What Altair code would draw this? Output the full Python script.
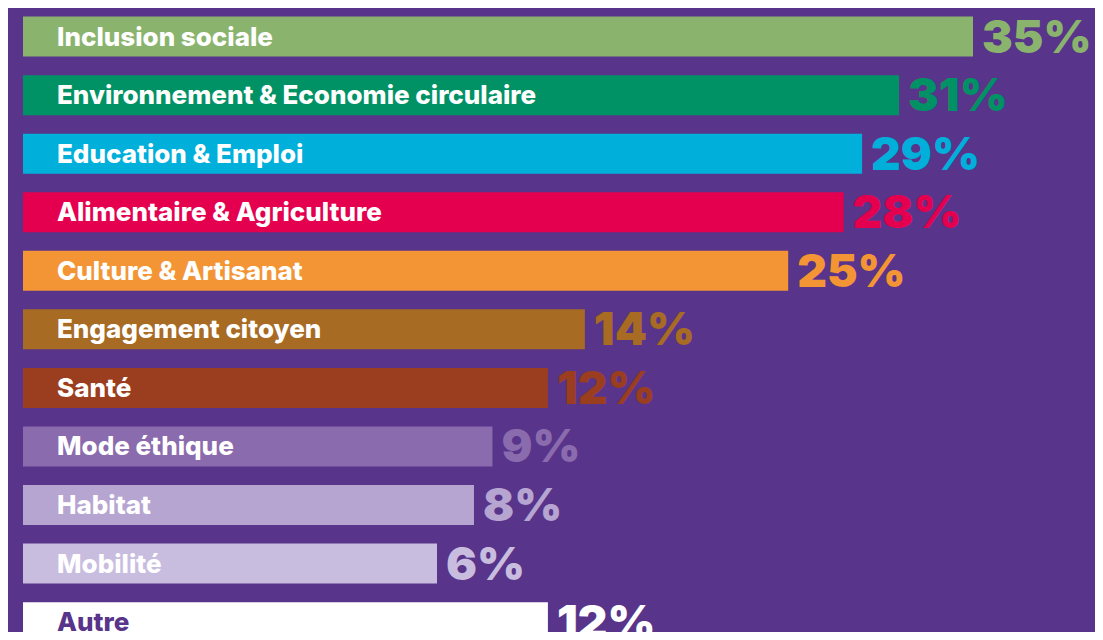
import altair as alt
import pandas as pd

categories = [
    "Inclusion sociale",
    "Environnement & Economie circulaire",
    "Education & Emploi",
    "Alimentaire & Agriculture",
    "Culture & Artisanat",
    "Engagement citoyen",
    "Santé",
    "Mode éthique",
    "Habitat",
    "Mobilité",
    "Autre",
]
values = [35, 31, 29, 28, 25, 14, 12, 9, 8, 6, 12]
bar_colors = [
    "#8AB46E", "#009265", "#00AFDA", "#E4004F", "#F39535", "#A76B23",
    "#9B3E1F", "#8A6BAE", "#B6A4D1", "#C8BCDF", "#FFFFFF",
]
BG = "#58348A"

df = pd.DataFrame({
    "category": categories,
    "value": values,
    "row": list(range(len(categories))),
    "pct": [f"{v}%" for v in values],
})

x_enc = alt.X("value:Q", axis=None, scale=alt.Scale(domain=[-16.4, 35], nice=False, zero=False))
y_enc = alt.Y("row:Q", axis=None, scale=alt.Scale(domain=[-0.403, 10.083], nice=False, zero=False, reverse=True))
color_enc = alt.Color("category:N", scale=alt.Scale(domain=categories, range=bar_colors), legend=None)

base = alt.Chart(df)

bars = base.mark_bar(size=40).encode(
    x=x_enc,
    x2=alt.datum(-16.4),
    y=y_enc,
    color=color_enc,
)

pct = base.mark_text(
    align="left", baseline="middle", dx=9, dy=2, fontSize=46, fontWeight=900, font="Inter"
).encode(
    x=x_enc,
    y=y_enc,
    text="pct:N",
    color=color_enc,
)

labels = base.mark_text(
    align="left", baseline="middle", fontSize=26, fontWeight=800, font="Inter", dy=1
).encode(
    x=alt.value(34),
    y=y_enc,
    text="category:N",
    color=alt.condition(alt.datum.category == "Autre", alt.value(BG), alt.value("#FFFFFF")),
)

chart = (
    alt.layer(bars, pct, labels)
    .properties(
        width=950,
        height=624,
        padding={"left": 15, "right": 122, "top": 0, "bottom": 0},
        autosize=alt.AutoSizeParams(type="none"),
        background=BG,
    )
    .configure_view(stroke=None)
)

chart.save("out.html", embed_options={"renderer": "svg", "actions": False})
